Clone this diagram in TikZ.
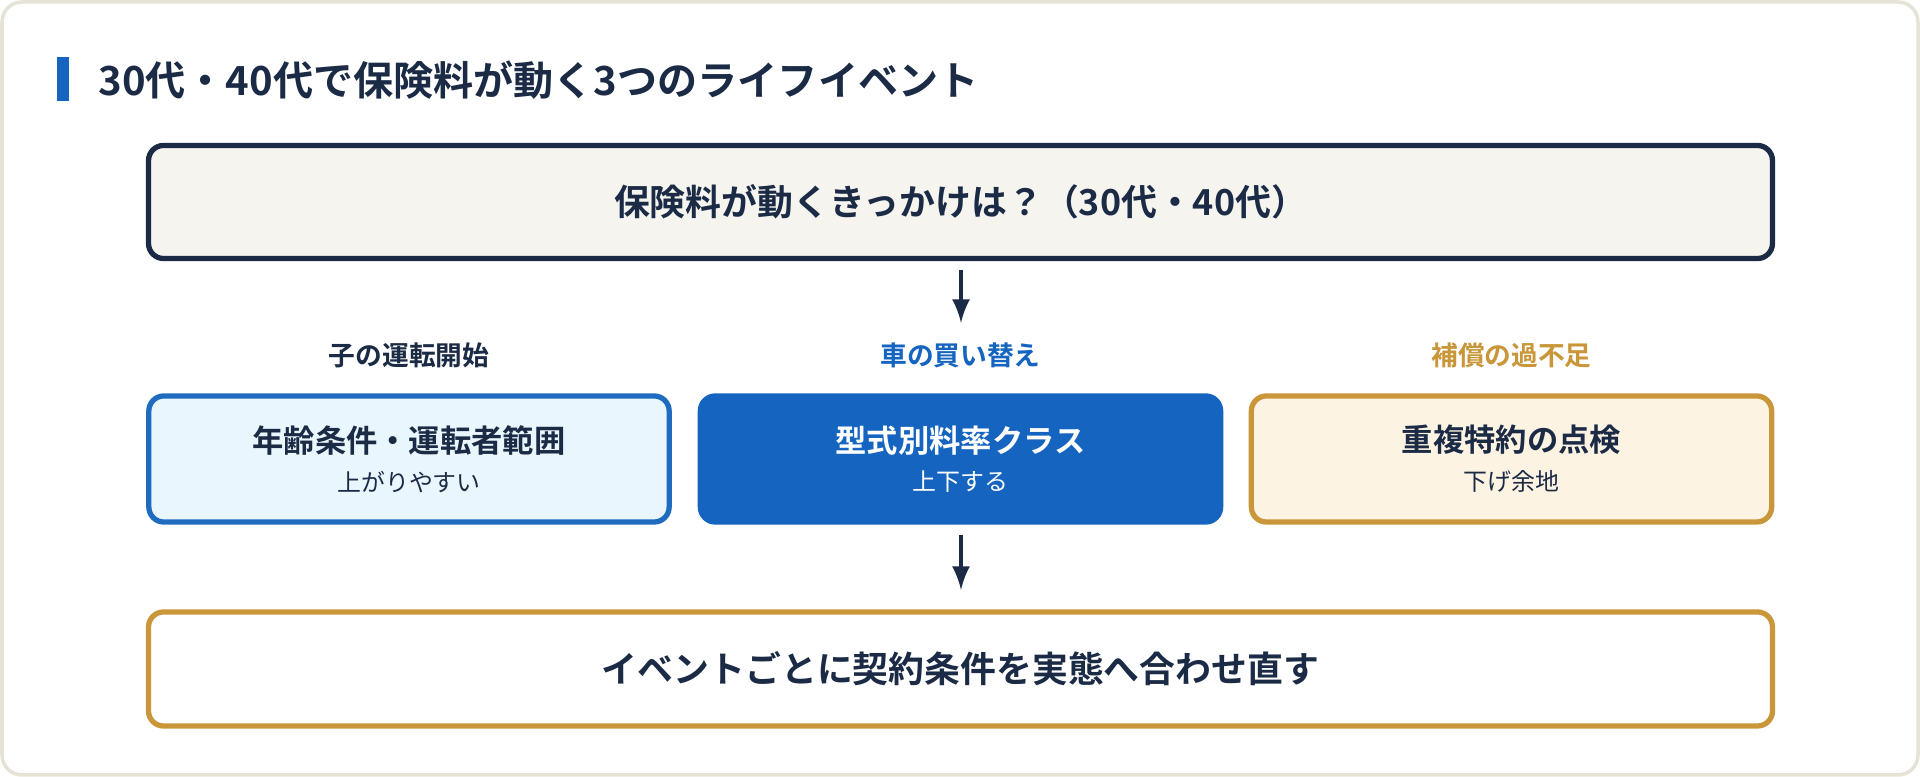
\documentclass[tikz,border=0pt]{standalone}
\usepackage{fontspec}
\setmainfont{Noto Sans CJK JP}[BoldFont={Noto Sans CJK JP Bold}]
\usetikzlibrary{positioning}
\definecolor{navy}{HTML}{1B2B45}
\definecolor{blueb}{HTML}{1E6BBF}
\definecolor{bluef}{HTML}{EAF6FD}
\definecolor{bluem}{HTML}{1565C0}
\definecolor{gold}{HTML}{C9973A}
\definecolor{goldf}{HTML}{FDF3E3}
\definecolor{grayf}{HTML}{F5F4EF}
\definecolor{frame}{HTML}{E6E3D6}
\tikzset{%
  box/.style   = {draw, rounded corners=0.15cm, line width=1.5pt,%
                  minimum width=16.23cm, minimum height=1.13cm, font=\bfseries\fontsize{10.2}{12}\selectfont},%
  event/.style = {draw, rounded corners=0.15cm, line width=1.5pt, align=center,%
                  minimum width=5.2cm, minimum height=1.26cm},%
  tag/.style   = {font=\bfseries\fontsize{7.6}{9}\selectfont},%
  flow/.style  = {-latex, line width=1.3pt, navy}%
}
\newcommand{\evtext}[2]{{\bfseries\fontsize{8.9}{11}\selectfont #1}\\[-1pt]{\fontsize{6.8}{8}\selectfont #2}}
\begin{document}
\begin{tikzpicture}[x=0.01cm,y=-0.01cm]
	\useasboundingbox (0,0) rectangle (1920,777);
	\draw [frame, fill=white, rounded corners=0.2cm, line width=1pt] (2,2) rectangle (1918,775);
	\fill [bluem] (57,57) rectangle (69,101);
	\node [anchor=west, text=navy, font=\bfseries\fontsize{11.4}{14}\selectfont] (title) at (86,80) {30代・40代で保険料が動く3つのライフイベント};
	% question box
	\node [box, navy, fill=grayf, text=navy] (ask) at (960.5,202) {保険料が動くきっかけは？（30代・40代）};
	% three events
	\node [event, blueb, fill=bluef, text=navy] (age) at (409,459) {\evtext{年齢条件・運転者範囲}{上がりやすい}};
	\node [event, bluem, fill=bluem, text=white] (car) at (960.5,459) {\evtext{型式別料率クラス}{上下する}};
	\node [event, gold, fill=goldf, text=navy] (dup) at (1511.5,459) {\evtext{重複特約の点検}{下げ余地}};
	\node [tag, text=navy, above=0.13cm of age] {子の運転開始};
	\node [tag, text=bluem, above=0.13cm of car] {車の買い替え};
	\node [tag, text=gold, above=0.13cm of dup] {補償の過不足};
	% result box
	\node [box, gold, fill=white, text=navy, minimum height=1.14cm] (fit) at (960.5,669) {イベントごとに契約条件を実態へ合わせ直す};
	\coordinate (a1) at (961,270);
	\coordinate (a2) at (961,323);
	\coordinate (b1) at (961,535);
	\coordinate (b2) at (961,590);
	\draw [flow] (a1) -- (a2);
	\draw [flow] (b1) -- (b2);
\end{tikzpicture}
\end{document}
